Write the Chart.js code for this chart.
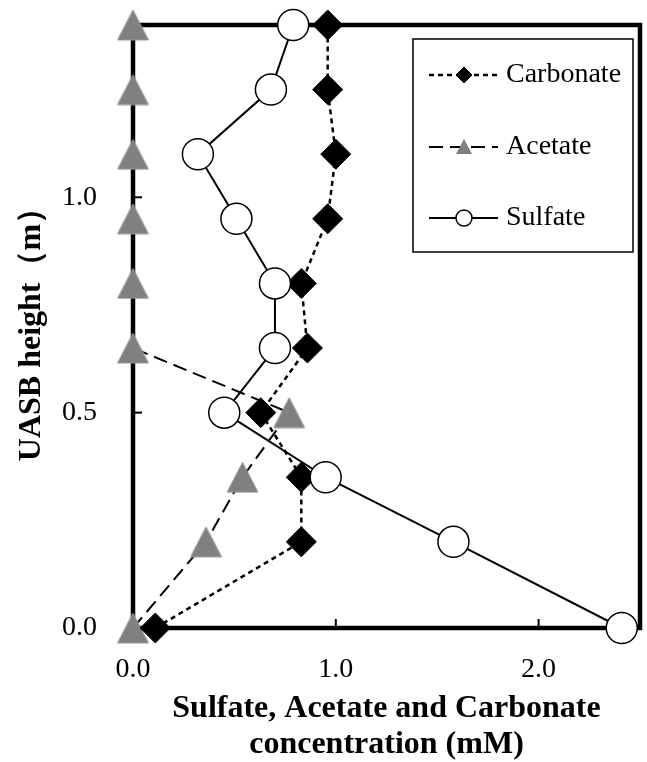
<!DOCTYPE html>
<html>
<head>
<meta charset="utf-8">
<title>UASB concentration profile</title>
<script src="https://cdn.jsdelivr.net/npm/chart.js@4.4.1/dist/chart.umd.min.js"></script>
<style>
  html, body { margin: 0; padding: 0; background: #fff; overflow: hidden; }
  canvas { display: block; }
</style>
</head>
<body>
<canvas id="profileChart" width="647" height="762"></canvas>
<script>
// heights along the reactor (m) and concentrations (mM)
const heights   = [0, 0.2, 0.35, 0.5, 0.65, 0.8, 0.95, 1.1, 1.25, 1.4];
const carbonate = [0.11, 0.83, 0.83, 0.63, 0.86, 0.83, 0.96, 1.0, 0.96, 0.96];
const acetate   = [0, 0.36, 0.54, 0.77, 0, 0, 0, 0, 0, 0];
const sulfate   = [2.41, 1.58, 0.95, 0.45, 0.70, 0.70, 0.51, 0.32, 0.68, 0.79];
const xTicks = [0, 1, 2];
const yTicks = [0, 0.5, 1];
const seriesNames = ['Carbonate', 'Acetate', 'Sulfate'];

const serif = '"Liberation Serif", "Times New Roman", serif';

function toPoints(vals) {
  return heights.map((h, i) => ({ x: vals[i], y: h }));
}

// grey triangle, centred on its bounding box like the original markers
function makeTriangle(w, h) {
  const c = document.createElement('canvas');
  c.width = w; c.height = h;
  const g = c.getContext('2d');
  g.beginPath();
  g.moveTo(w / 2, 1);
  g.lineTo(w - 1, h - 1);
  g.lineTo(1, h - 1);
  g.closePath();
  g.fillStyle = '#808080';
  g.fill();
  g.strokeStyle = '#9a9a9a';
  g.lineWidth = 1;
  g.stroke();
  return c;
}
const triBig = makeTriangle(33, 32);

// keep the plot box fixed: no extra room for edge labels
function noPad(s) {
  s.paddingTop = 0; s.paddingBottom = 0;
  s.paddingLeft = 0; s.paddingRight = 0;
}

// thick frame + inward tick marks, drawn under the markers
const framePlugin = {
  id: 'frame',
  beforeDatasetsDraw(chart) {
    const { ctx, chartArea: a, scales } = chart;
    ctx.save();
    ctx.strokeStyle = '#000';
    ctx.lineWidth = 2;
    xTicks.slice(1).forEach(v => {
      const px = scales.x.getPixelForValue(v);
      ctx.beginPath(); ctx.moveTo(px, a.bottom); ctx.lineTo(px, a.bottom - 9); ctx.stroke();
    });
    yTicks.slice(1).forEach(v => {
      const py = scales.y.getPixelForValue(v);
      ctx.beginPath(); ctx.moveTo(a.left, py); ctx.lineTo(a.left + 9, py); ctx.stroke();
    });
    ctx.lineWidth = 4.5;
    ctx.strokeRect(a.left, a.top, a.right - a.left, a.bottom - a.top);
    ctx.restore();
  }
};

// boxed legend with line + marker samples
const legendPlugin = {
  id: 'boxLegend',
  afterDatasetsDraw(chart) {
    const ctx = chart.ctx;
    const box = { x: 413, y: 39, w: 220, h: 213 };
    const rows = [75, 147, 218];
    ctx.save();
    ctx.fillStyle = '#fff';
    ctx.fillRect(box.x, box.y, box.w, box.h);
    ctx.strokeStyle = '#000';
    ctx.lineWidth = 1.5;
    ctx.strokeRect(box.x, box.y, box.w, box.h);
    chart.data.datasets.forEach((ds, i) => {
      const y = rows[i];
      ctx.save();
      ctx.strokeStyle = ds.borderColor;
      ctx.lineWidth = ds.borderWidth;
      ctx.setLineDash(ds.borderDash || []);
      ctx.beginPath(); ctx.moveTo(429, y); ctx.lineTo(498, y); ctx.stroke();
      ctx.restore();
      const mx = 464;
      if (ds.label === 'Acetate') {
        ctx.beginPath();
        ctx.moveTo(mx, y - 8); ctx.lineTo(mx + 8, y + 7); ctx.lineTo(mx - 8, y + 7);
        ctx.closePath();
        ctx.fillStyle = '#808080';
        ctx.fill();
      } else {
        ctx.fillStyle = ds.pointBackgroundColor;
        ctx.strokeStyle = ds.pointBorderColor;
        ctx.lineWidth = ds.pointBorderWidth;
        Chart.helpers.drawPoint(ctx, { pointStyle: ds.pointStyle, radius: 8, rotation: 0, borderWidth: ds.pointBorderWidth }, mx, y);
      }
      ctx.fillStyle = '#000';
      ctx.font = '28px ' + serif;
      ctx.textBaseline = 'middle';
      ctx.textAlign = 'left';
      ctx.fillText(ds.label, 506, y);
    });
    ctx.restore();
  }
};

new Chart(document.getElementById('profileChart'), {
  type: 'scatter',
  data: {
    datasets: [
      {
        label: seriesNames[0],
        data: toPoints(carbonate),
        showLine: true,
        borderColor: '#000',
        borderWidth: 2.5,
        borderDash: [5, 4],
        pointStyle: 'rectRot',
        pointRadius: 15,
        pointBackgroundColor: '#000',
        pointBorderColor: '#000',
        pointBorderWidth: 1,
        clip: false,
        order: 1
      },
      {
        label: seriesNames[1],
        data: toPoints(acetate),
        showLine: true,
        borderColor: '#000',
        borderWidth: 2,
        borderDash: [14, 7],
        pointStyle: triBig,
        pointRadius: 16,
        clip: false,
        order: 2
      },
      {
        label: seriesNames[2],
        data: toPoints(sulfate),
        showLine: true,
        borderColor: '#000',
        borderWidth: 2,
        pointStyle: 'circle',
        pointRadius: 15.5,
        pointBackgroundColor: '#fff',
        pointBorderColor: '#000',
        pointBorderWidth: 1.5,
        clip: false,
        order: 0
      }
    ]
  },
  options: {
    responsive: false,
    animation: false,
    layout: { autoPadding: false, padding: { top: 25, right: 7, left: 0, bottom: 0 } },
    plugins: {
      legend: { display: false },
      tooltip: { enabled: false }
    },
    scales: {
      x: {
        type: 'linear',
        min: 0,
        max: 2.5,
        afterBuildTicks: s => { s.ticks = xTicks.map(v => ({ value: v })); },
        afterFit: s => { s.height = 134; noPad(s); },
        grid: { display: false, drawTicks: false },
        border: { display: false },
        ticks: {
          padding: 25,
          color: '#000',
          font: { family: serif, size: 28 },
          maxRotation: 0,
          autoSkip: false,
          callback: v => v.toFixed(1)
        },
        title: {
          display: true,
          text: ['Sulfate, Acetate and Carbonate', 'concentration (mM)'],
          color: '#000',
          font: { family: serif, size: 32, weight: 'bold', lineHeight: 1.1 },
          padding: { top: 0, bottom: 0 }
        }
      },
      y: {
        type: 'linear',
        min: 0,
        max: 1.4,
        afterBuildTicks: s => { s.ticks = yTicks.map(v => ({ value: v })); },
        afterFit: s => { s.width = 133; noPad(s); },
        grid: { display: false, drawTicks: false },
        border: { display: false },
        ticks: {
          padding: 36,
          color: '#000',
          font: { family: serif, size: 28 },
          autoSkip: false,
          callback: v => v.toFixed(1)
        },
        title: {
          display: true,
          text: 'UASB height（m）',
          color: '#000',
          font: { family: serif, size: 32, weight: 'bold', lineHeight: 1.2 },
          padding: { top: 13, bottom: 0 }
        }
      }
    }
  },
  plugins: [framePlugin, legendPlugin]
});
</script>
</body>
</html>
